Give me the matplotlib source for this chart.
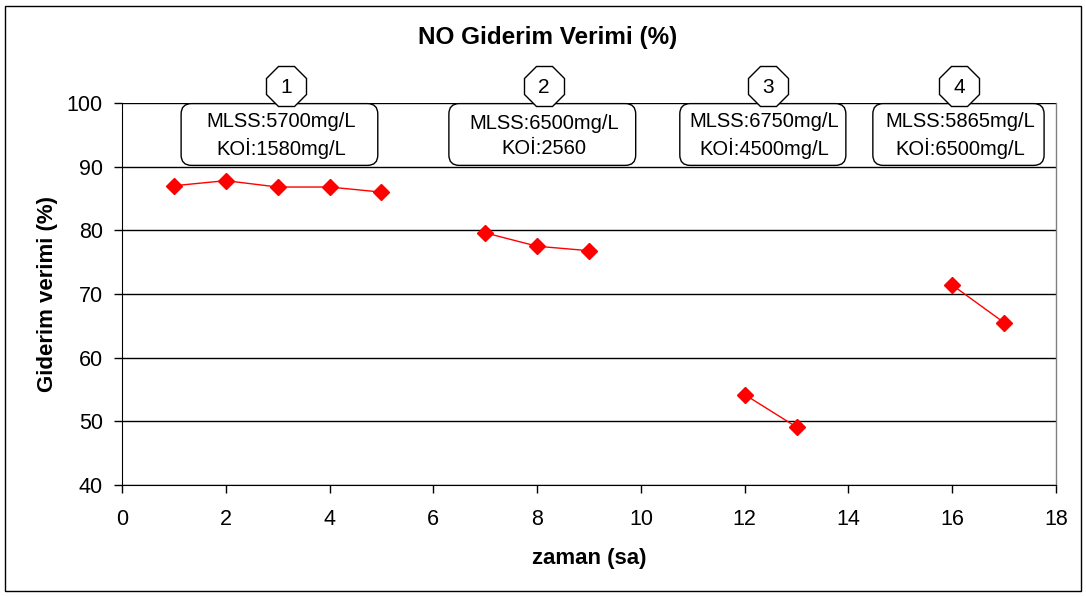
import matplotlib
matplotlib.use('Agg')
import matplotlib.pyplot as plt
from matplotlib.patches import Rectangle, FancyBboxPatch

plt.rcParams['font.family'] = ['Liberation Sans', 'DejaVu Sans']

# veri: her faz ayri ciziliyor
fazlar = [
    ([1, 2, 3, 4, 5], [87.0, 87.8, 86.8, 86.8, 86.0]),
    ([7, 8, 9], [79.6, 77.5, 76.8]),
    ([12, 13], [54.2, 49.1]),
    ([16, 17], [71.4, 65.5]),
]
kutu_yazilari = ['MLSS:5700mg/L\nKOİ:1580mg/L',
                 'MLSS:6500mg/L\nKOİ:2560',
                 'MLSS:6750mg/L\nKOİ:4500mg/L',
                 'MLSS:5865mg/L\nKOİ:6500mg/L']
numaralar = ['1', '2', '3', '4']

# kutularin yerleri (sol, sag) x ekseninde
kutu_sinir = [(1.14, 4.93), (6.30, 9.90), (10.75, 13.95), (14.47, 17.77)]
numara_x = [3.16, 8.13, 12.45, 16.13]

fig = plt.figure(figsize=(10.86, 5.97), dpi=100)
ax = fig.add_axes([0.1123, 0.1876, 0.8601, 0.6399])

for xs, ys in fazlar:
    ax.plot(xs, ys, color='red', lw=1, marker='D', ms=8.5, mec='red', zorder=3)

ax.set_xlim(0, 18)
ax.set_ylim(40, 100)
ax.set_xticks(range(0, 19, 2))
ax.set_yticks(range(40, 101, 10))
ax.tick_params(labelsize=15.5, direction='out', length=5.8, width=1)
ax.tick_params(axis='x', pad=11.5)
ax.tick_params(axis='y', pad=8)
ax.yaxis.grid(True, color='black', lw=1)
ax.set_axisbelow(True)
ax.spines['top'].set_visible(False)
ax.spines['right'].set_color('#808080')
ax.spines['right'].set_linewidth(1)

ax.set_xlabel('zaman (sa)', fontsize=16, fontweight='bold', labelpad=13)
ax.set_ylabel('Giderim verimi (%)', fontsize=16, fontweight='bold', labelpad=6)
fig.text(0.504, 0.938, 'NO Giderim Verimi (%)', ha='center', va='center',
         fontsize=17.5, fontweight='bold')

# y birimi / x birimi (piksel basina) -> koseler yuvarlak kalsin
asp = (60 / 382) / (18 / 934)
y0, y1 = 90.2, 99.9
for (xa, xb), t in zip(kutu_sinir, kutu_yazilari):
    kutu = FancyBboxPatch((xa, y0), xb - xa, y1 - y0,
                          boxstyle='round,pad=0,rounding_size=0.2',
                          mutation_aspect=asp, fc='white', ec='black', lw=1,
                          zorder=5, clip_on=False)
    ax.add_patch(kutu)
    ax.text((xa + xb) / 2 + 0.03, (y0 + y1) / 2 - 0.2, t, ha='center', va='center',
            fontsize=14.5, linespacing=1.4, zorder=6)

for x, n in zip(numara_x, numaralar):
    ax.plot(x, 102.6, marker='8', ms=31, mfc='white', mec='black', mew=1, clip_on=False, zorder=5)
    ax.text(x, 102.5, n, ha='center', va='center', fontsize=15, zorder=6, clip_on=False)

fig.patches.append(Rectangle((0.005, 0.01), 0.99, 0.98, transform=fig.transFigure,
                             fill=False, ec='black', lw=1))

plt.savefig('out.png', dpi=100)
